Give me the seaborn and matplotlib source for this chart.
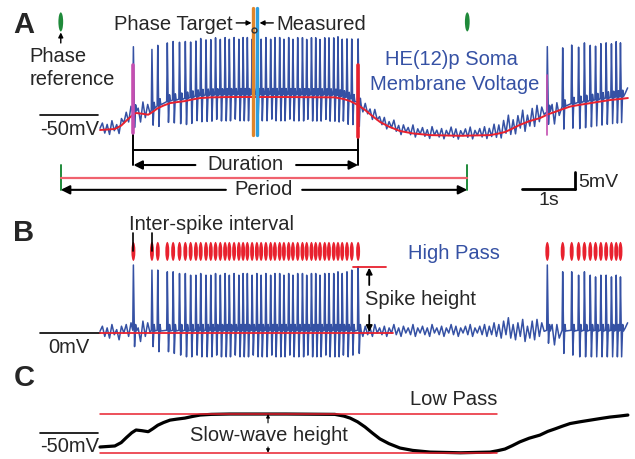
import numpy as np
import pandas as pd
import matplotlib
matplotlib.use("Agg")
import matplotlib.pyplot as plt
from matplotlib.patches import Ellipse
import seaborn as sns

# spike times (s) of the two bursts
burst1_t = [0.63, 0.98, 1.09, 1.27, 1.38, 1.50, 1.61, 1.71, 1.81, 1.90,
            2.00, 2.09, 2.18, 2.27, 2.36, 2.44, 2.53, 2.62, 2.70, 2.78,
            2.87, 2.96, 3.04, 3.13, 3.22, 3.30, 3.39, 3.47, 3.56, 3.64,
            3.73, 3.82, 3.90, 3.99, 4.07, 4.15, 4.24, 4.32, 4.41, 4.49,
            4.57, 4.66, 4.75, 4.87]
burst1_peak = [20.0, 18.5, 18.5, 18.0, 18.0, 17.5, 17.5, 17.0, 17.0, 17.5,
               17.0, 17.0, 17.5, 17.0, 17.5, 17.0, 17.5, 17.0, 17.5, 17.5,
               17.0, 17.5, 17.0, 17.5, 17.0, 17.5, 17.5, 17.0, 17.5, 17.0,
               17.5, 17.5, 17.0, 17.5, 17.5, 17.0, 17.5, 17.5, 17.5, 18.0,
               17.5, 18.0, 18.5, 19.5]
burst1_trough = [-4.0, -4.0, -5.5, -5.5, -6.0, -6.5, -7.0, -7.0, -6.5, -7.0,
                 -7.0, -7.0, -6.5, -7.0, -7.0, -7.0, -6.5, -7.0, -7.0, -7.0,
                 -6.5, -7.0, -7.0, -7.0, -6.5, -7.0, -7.0, -7.0, -6.5, -7.0,
                 -7.0, -7.0, -6.5, -7.0, -7.0, -7.0, -6.5, -7.0, -7.0, -7.0,
                 -6.5, -7.0, -6.5, -6.0]
burst2_t = [8.44, 8.73, 8.90, 9.03, 9.14, 9.25, 9.35, 9.45, 9.55, 9.65, 9.74, 9.82]
burst2_peak = [20.0, 18.0, 18.0, 17.0, 18.0, 17.0, 16.5, 17.0, 17.0, 16.5, 17.0, 16.5]
burst2_trough = [-3.0, -6.0, -6.5, -7.0, -7.0, -7.0, -7.0, -7.0, -7.0, -7.0, -7.0, -7.0]

# low pass (slow wave), mV
slow_t = [0.0, 0.28, 0.40, 0.50, 0.60, 0.68, 0.79, 0.91, 1.00, 1.09, 1.20, 1.32,
          1.45, 1.60, 1.75, 1.89, 2.10, 2.45, 3.50, 4.43, 4.60, 4.72, 4.86, 5.00,
          5.14, 5.28, 5.45, 5.66, 5.90, 6.23, 6.80, 7.36, 7.50, 7.64, 7.78, 7.92,
          8.10, 8.30, 8.45, 8.58, 8.72, 8.87, 9.05, 9.25, 9.45, 9.62, 9.80, 9.96]
slow_v = [-50.0, -49.7, -48.7, -47.2, -45.8, -45.0, -45.2, -45.5, -44.6, -43.6, -42.8, -42.1,
          -41.8, -41.5, -41.0, -40.6, -40.4, -40.3, -40.3, -40.4, -40.9, -41.5, -42.6, -44.1,
          -45.9, -47.6, -49.0, -50.3, -51.0, -51.5, -51.7, -51.5, -51.1, -50.6, -49.6, -48.5,
          -47.4, -46.5, -45.4, -44.7, -43.9, -43.1, -42.6, -42.1, -41.6, -41.2, -40.9, -40.6]

# subthreshold ripple of the high-pass trace (mV), one value per ripple_dt
ripple_dt = 0.045
pre_ripple = [0.5, 2.0, -1.0, 1.5, -1.5, 2.5, -0.5, 1.0, -2.0, 2.0, 0.0, 2.5, -1.0, 3.0]
gap1_ripple = [1.5, -2.5, 3.5, -1.0, 3.0, 0.0]
inter_ripple = [-1.0, 2.0, -0.5, 1.5, -1.0, 2.5, 0.0, 1.5, -0.5, 2.0,
                -1.0, 1.5, 0.0, 2.5, -0.5, 1.5, -1.0, 2.0, 0.0, 1.5,
                -0.5, 2.5, -1.0, 1.5, 0.0, 2.0, -0.5, 1.5, -1.0, 2.5,
                0.0, 1.5, -0.5, 2.0, -1.0, 1.5, 0.0, 2.5, -0.5, 2.0,
                -1.0, 1.5, 0.0, 2.0, -0.5, 2.5, -1.0, 1.5, 0.0, 2.0,
                -0.5, 2.5, -1.0, 2.0, -0.5, 3.0, -1.0, 2.5, -1.5, 3.5,
                -0.5, 4.5, -1.5, 2.5, -2.0, 3.0, -1.0, 4.0, -2.5, 2.0,
                -1.5, 3.5, -2.0, 4.0, -1.0, 3.0, 0.5]
gap2_ripple = [2.5, -3.5, 2.5, -1.5]
tail_ripple = [1.5, 3.0]

phase_ref_t = [-0.74, 6.93]
phase_target_t = 2.89
phase_measured_t = 2.97

BLUE = "#3551a4"
RED = "#e8212e"
MAGENTA = "#c54fb0"
ORANGE = "#e0862a"
LIGHTBLUE = "#2e9fe0"
GREEN = "#1f8a3a"
PINK = "#f0626e"
FS = 14.5

# build the high-pass trace
spike_dt = [-0.012, 0.0, 0.022, 0.042, 0.058]


def burst_pts(times, peaks, troughs):
    pts = []
    for t, pk, tr in zip(times, peaks, troughs):
        pts += list(zip([t + d for d in spike_dt], [0.8, pk, tr, 2.5, 0.6]))
    return pts


def ripple_pts(start, vals):
    return [(start + i * ripple_dt, v) for i, v in enumerate(vals)]


pts = burst_pts(burst1_t, burst1_peak, burst1_trough)
pts += burst_pts(burst2_t, burst2_peak, burst2_trough)
pts += ripple_pts(0.0, pre_ripple)
pts += ripple_pts(burst1_t[0] + 0.09, gap1_ripple)
pts += ripple_pts(burst1_t[-1] + 0.09, inter_ripple)
pts += ripple_pts(burst2_t[0] + 0.09, gap2_ripple)
pts += ripple_pts(burst2_t[-1] + 0.09, tail_ripple)
trace = pd.DataFrame(sorted(pts), columns=["t", "hp"])
trace["raw"] = np.interp(trace["t"], slow_t, slow_v) + trace["hp"]
slow = pd.DataFrame({"t": slow_t, "v": slow_v})

sns.set_style("white")
plt.rcParams["font.family"] = ["Liberation Sans", "DejaVu Sans"]

fig = plt.figure(figsize=(6.35, 4.59), dpi=100)
xlim = (-100 / 53, 535 / 53)
axA = fig.add_axes([0, 1 - 200 / 459, 1, 200 / 459])
axB = fig.add_axes([0, 1 - 365 / 459, 1, 165 / 459])
axC = fig.add_axes([0, 0, 1, 94 / 459])
axA.set_ylim(-70.59, -11.76)
axB.set_ylim(-9.41, 39.12)
axC.set_ylim(-53.53, -25.88)
for ax in (axA, axB, axC):
    ax.set_xlim(xlim)
    ax.axis("off")


def arrow(ax, x0, y0, x1, y1, size=13, lw=1.5):
    ax.annotate("", xy=(x1, y1), xytext=(x0, y0),
                arrowprops=dict(arrowstyle="-|>", color="black", lw=lw,
                                mutation_scale=size, shrinkA=0, shrinkB=0))


# ---------------- A: raw membrane voltage ----------------
sns.lineplot(data=trace, x="t", y="raw", ax=axA, color=BLUE, lw=1.1,
             estimator=None, sort=False)
sns.lineplot(data=slow, x="t", y="v", ax=axA, color=RED, lw=1.4,
             estimator=None, sort=False, zorder=3)

b_start, b_end = burst1_t[0], burst1_t[-1]
axA.plot([b_start] * 2, [-30.9, -50.9], color=MAGENTA, lw=2.6, zorder=4)
axA.plot([b_start] * 2, [-50.9, -60.3], color="black", lw=1.4)
axA.plot([b_end] * 2, [-30.9, -52.1], color=RED, lw=2.6, zorder=4)
axA.plot([b_end] * 2, [-52.1, -60.3], color="black", lw=1.4)
axA.plot([burst2_t[0]] * 2, [-33.8, -51.5], color=MAGENTA, lw=1.2, zorder=4)
axA.plot([b_start, b_end], [-55.9, -55.9], color="black", lw=1.4)
mid = (b_start + b_end) / 2
axA.text(mid, -61.8, "Duration", ha="center", va="baseline", fontsize=FS)
arrow(axA, mid - 0.95, -60.3, b_start, -60.3)
arrow(axA, mid + 0.95, -60.3, b_end, -60.3)

# period
for t in phase_ref_t:
    axA.add_patch(Ellipse((t, -18.2), 0.09, 5.6, color=GREEN, lw=0))
    axA.plot([t, t], [-60.3, -67.6], color=GREEN, lw=1.4)
axA.plot(phase_ref_t, [-64.1, -64.1], color=PINK, lw=1.6)
pmid = sum(phase_ref_t) / 2
axA.text(pmid, -69.1, "Period", ha="center", va="baseline", fontsize=FS)
arrow(axA, pmid - 0.72, -67.6, phase_ref_t[0], -67.6)
arrow(axA, pmid + 0.72, -67.6, phase_ref_t[1], -67.6)
arrow(axA, phase_ref_t[0], -24.4, phase_ref_t[0], -21.3, size=7, lw=1.0)
axA.text(-0.79, -30.0, "Phase", ha="center", va="baseline", fontsize=FS)
axA.text(-0.53, -36.8, "reference", ha="center", va="baseline", fontsize=FS)

# phase target / measured
axA.plot([phase_target_t] * 2, [-14.1, -51.5], color=ORANGE, lw=2.4, zorder=5)
axA.plot([phase_measured_t] * 2, [-14.1, -51.5], color=LIGHTBLUE, lw=2.4, zorder=5)
axA.plot([2.91], [-20.6], marker="o", ms=3.5, mfc="none", mec="#333333", mew=1, zorder=6)
axA.text(2.50, -20.6, "Phase Target", ha="right", va="baseline", fontsize=FS)
axA.text(3.32, -20.6, "Measured", ha="left", va="baseline", fontsize=FS)
arrow(axA, 2.57, -18.5, 2.86, -18.5, size=7, lw=1.0)
arrow(axA, 3.27, -18.5, 3.01, -18.5, size=7, lw=1.0)

axA.text(6.63, -30.9, "HE(12)p Soma", ha="center", va="baseline", fontsize=FS, color=BLUE)
axA.text(6.70, -38.2, "Membrane Voltage", ha="center", va="baseline", fontsize=FS, color=BLUE)

axA.text(-0.02, -51.5, "-50mV", ha="right", va="baseline", fontsize=FS)
axA.plot([-1.13, -0.04], [-45.6, -45.6], color="black", lw=1.2)

# scale bar 1 s / 5 mV
axA.plot([7.96, 8.96], [-67.4, -67.4], color="black", lw=2)
axA.plot([8.96, 8.96], [-67.4, -62.4], color="black", lw=2)
axA.text(9.02, -66.8, "5mV", ha="left", va="baseline", fontsize=14)
axA.text(8.47, -72.1, "1s", ha="center", va="baseline", fontsize=14)

# ---------------- B: high pass ----------------
sns.lineplot(data=trace, x="t", y="hp", ax=axB, color=BLUE, lw=1.1,
             estimator=None, sort=False)
axB.plot([0, 5.53], [0, 0], color=RED, lw=1.3, zorder=3)
axB.plot([-1.13, 0], [0, 0], color="black", lw=1.2)
axB.text(-0.59, -5.9, "0mV", ha="center", va="baseline", fontsize=FS)
for t in burst1_t + burst2_t:
    axB.add_patch(Ellipse((t, 24.0), 0.075, 5.6, color=RED, lw=0))
for t in burst1_t[:2]:
    axB.plot([t, t], [29.4, 24.0], color="black", lw=1.2, zorder=4)
axB.text(2.10, 30.3, "Inter-spike interval", ha="center", va="baseline", fontsize=FS)
axB.text(6.67, 21.8, "High Pass", ha="center", va="baseline", fontsize=FS, color=BLUE)
axB.plot([4.77, 5.40], [19.4, 19.4], color=RED, lw=1.3)
axB.text(5.0, 8.2, "Spike height", ha="left", va="baseline", fontsize=FS)
arrow(axB, 5.08, 14.1, 5.08, 19.2, size=9, lw=1.3)
arrow(axB, 5.08, 5.3, 5.08, 0.3, size=9, lw=1.3)

# ---------------- C: low pass ----------------
sns.lineplot(data=slow, x="t", y="v", ax=axC, color="black", lw=2.3,
             estimator=None, sort=False)
hi, lo = max(slow_v), min(slow_v)
axC.plot([0, 7.49], [hi, hi], color=RED, lw=1.1)
axC.plot([0, 7.49], [lo, lo], color=RED, lw=1.1)
axC.text(7.49, -37.6, "Low Pass", ha="right", va="baseline", fontsize=FS)
axC.text(3.19, -48.2, "Slow-wave height", ha="center", va="baseline", fontsize=FS)
arrow(axC, 3.17, -42.9, 3.17, hi, size=5, lw=0.8)
arrow(axC, 3.17, -50.0, 3.17, lo, size=5, lw=0.8)
axC.text(-0.02, -51.5, "-50mV", ha="right", va="baseline", fontsize=FS)
axC.plot([-1.13, -0.04], [-45.9, -45.9], color="black", lw=1.2)

# panel letters
for letter, y in (("A", 33), ("B", 241), ("C", 386)):
    fig.text(24 / 635, 1 - y / 459, letter, ha="center", va="baseline",
             fontsize=21, fontweight="bold")

fig.savefig("out.png", dpi=100)
